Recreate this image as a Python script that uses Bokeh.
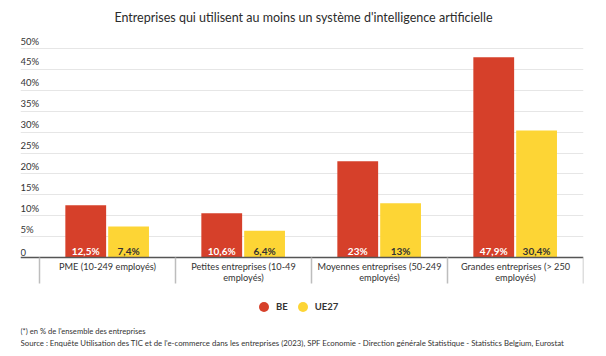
from bokeh.plotting import figure
from bokeh.models import Range1d, FixedTicker, Legend, LegendItem, ColumnDataSource
from bokeh.transform import dodge
from bokeh.core.properties import value
from bokeh.embed import file_html
from bokeh.resources import INLINE

title = "Entreprises qui utilisent au moins un système d'intelligence artificielle"
categories = [
    "PME (10-249 employés)",
    "Petites entreprises (10-49\nemployés)",
    "Moyennes entreprises (50-249\nemployés)",
    "Grandes entreprises (> 250\nemployés)",
]
series = ["BE", "UE27"]
be = [12.5, 10.6, 23, 47.9]
ue27 = [7.4, 6.4, 13, 30.4]
y_ticks = [0, 5, 10, 15, 20, 25, 30, 35, 40, 45, 50]
y_tick_labels = ["0", "5%", "10%", "15%", "20%", "25%", "30%", "35%", "40%", "45%", "50%"]
footnotes = [
    "(*) en % de l'ensemble des entreprises",
    "Source : Enquête Utilisation des TIC et de l'e-commerce dans les entreprises (2023), SPF Economie - Direction générale Statistique - Statistics Belgium, Eurostat",
]
colors = ["#d6402a", "#fdd535"]

FONT = "Lato"
TXT = "#333333"

W, H = 606, 356
BL, BR = 20, 23
BASE = 257            # pixel row of the zero line
PXY = 209 / 50.0      # pixels per percentage point
n = len(categories)
left_pad = 19 / 136.0
x_start, x_end = -0.5 - left_pad, n - 0.5
y_end = BASE / PXY
y_start = -(H - BASE) / PXY
PXX = (W - BL - BR) / (x_end - x_start)


def fmt(v):
    return f"{v:g}".replace(".", ",") + "%"


def yrow(py):
    # pixel row in the picture -> data units
    return (BASE - py) / PXY


src = ColumnDataSource(dict(
    x=list(range(n)),
    be=be,
    ue=ue27,
    be_lbl=[fmt(v) for v in be],
    ue_lbl=[fmt(v) for v in ue27],
    zero=[0] * n,
))

p = figure(width=W, height=H, output_backend="svg", toolbar_location=None,
           x_range=Range1d(x_start, x_end), y_range=Range1d(y_start, y_end),
           y_axis_location=None, min_border_left=BL, min_border_right=BR,
           min_border_top=0, min_border_bottom=0)
p.outline_line_color = None
p.border_fill_color = "white"
p.background_fill_color = "white"
p.xgrid.visible = False
p.ygrid.ticker = FixedTicker(ticks=y_ticks[1:])
p.ygrid.grid_line_color = "#e6e6e6"
p.ygrid.grid_line_width = 1

xa = p.xaxis[0]
xa.fixed_location = 0
xa.ticker = FixedTicker(ticks=[i - 0.5 for i in range(n + 1)], minor_ticks=[])
xa.major_label_text_font_size = "0px"
xa.major_label_text_color = None
xa.major_tick_in = 0
xa.major_tick_out = 26
xa.major_tick_line_color = "#bdbdbd"
xa.major_tick_line_width = 1.5
xa.minor_tick_line_color = None
xa.axis_line_color = "#555555"
xa.axis_line_width = 1.5

off_be, off_ue, bw = -0.16, 0.155, 0.3
p.vbar(x=dodge("x", off_be, range=p.x_range), top="be", width=bw, source=src,
       fill_color=colors[0], line_color=None)
p.vbar(x=dodge("x", off_ue, range=p.x_range), top="ue", width=bw, source=src,
       fill_color=colors[1], line_color=None)

p.text(x=dodge("x", off_be, range=p.x_range), y="zero", text="be_lbl", source=src,
       text_align="center", text_baseline="bottom", y_offset=-1,
       text_font=value(FONT), text_font_style="bold", text_font_size="10px", text_color="white")
p.text(x=dodge("x", off_ue, range=p.x_range), y="zero", text="ue_lbl", source=src,
       text_align="center", text_baseline="bottom", y_offset=-1,
       text_font=value(FONT), text_font_style="bold", text_font_size="10px", text_color=TXT)

tick_src = ColumnDataSource(dict(y=y_ticks, t=y_tick_labels, x=[x_start] * len(y_ticks)))
p.text(x="x", y="y", text="t", source=tick_src, text_align="left", text_baseline="bottom",
       y_offset=-2, text_font=value(FONT), text_font_size="9.5px", text_color=TXT)

# category labels (one row per wrapped line)
cx, cy, ct = [], [], []
for i, c in enumerate(categories):
    for j, line in enumerate(c.split("\n")):
        cx.append(i)
        cy.append(yrow(266 + 11 * j))
        ct.append(line)
p.text(x="x", y="y", text="t", source=ColumnDataSource(dict(x=cx, y=cy, t=ct)),
       text_align="center", text_baseline="middle", text_font=value(FONT),
       text_font_size="9.2px", text_color=TXT)

# title
x_center = x_start + (W / 2 - BL) / PXX
p.text(x=[x_center], y=[yrow(17)], text=[title], text_align="center", text_baseline="middle",
       text_font=value(FONT), text_font_size="12.5px", text_color="#2b2b2b")

# footnotes
p.text(x=[x_start, x_start], y=[yrow(330.5), yrow(342)], text=footnotes,
       text_align="left", text_baseline="middle", text_font=value(FONT),
       text_font_size=["7.6px", "7.8px"], text_color=TXT)

# legend (markers of size 0 on the chart; the legend draws its own symbol)
r_be = p.scatter(x="x", y="be", source=src, marker="circle", size=0,
                 fill_color=colors[0], line_color=None)
r_ue = p.scatter(x="x", y="ue", source=src, marker="circle", size=0,
                 fill_color=colors[1], line_color=None)
legend = Legend(items=[LegendItem(label=series[0], renderers=[r_be], index=0),
                       LegendItem(label=series[1], renderers=[r_ue], index=0)],
                orientation="horizontal", location=(231, H - 319), glyph_width=25, glyph_height=25,
                label_standoff=0, label_width=0, spacing=2, padding=0, margin=0,
                border_line_color=None,
                background_fill_alpha=0, label_text_font=FONT, label_text_font_style="bold",
                label_text_font_size="9.5px", label_text_color=TXT)
p.add_layout(legend)

open("out.html", "w").write(file_html(p, INLINE))
